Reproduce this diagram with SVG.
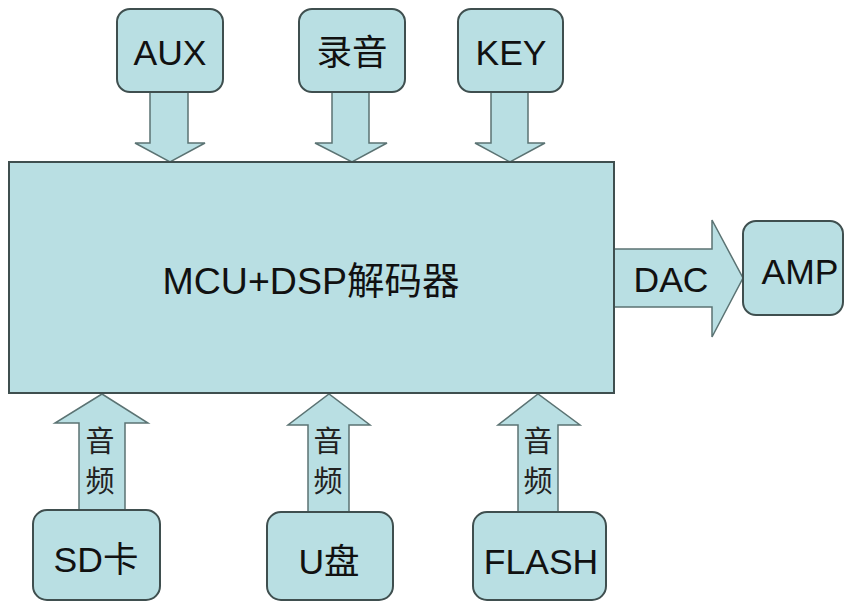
<svg xmlns="http://www.w3.org/2000/svg" width="849" height="604" viewBox="0 0 849 604">
<style>
.box{fill:#b9dfe3;stroke:#3f4f4f;stroke-width:2}
.arr{fill:#b9dfe3;stroke:#5b7373;stroke-width:1.5}
.t{font-family:"Liberation Sans","Noto Sans CJK SC",sans-serif;fill:#111;text-anchor:middle}
.l{font-size:35.5px}
.v{font-size:29px;font-family:"Noto Sans CJK SC",sans-serif;fill:#222;text-anchor:middle}
</style>
<rect width="849" height="604" fill="#fff"/>
<g id="connectors">
<polygon class="arr" points="150,92 188,92 188,143 205,143 170,162 135,143 150,143"/>
<polygon class="arr" points="332,92 369,92 369,143 387,143 352,162 315,143 332,143"/>
<polygon class="arr" points="491,92 528,92 528,143 545,143 510,162 475,143 491,143"/>
<polygon class="arr" points="614,249 712,249 712,220 743,278 712,337 712,307 614,307"/>
<polygon class="arr" points="79,510 125,510 125,423 148,423 102,394 55,423 79,423"/>
<polygon class="arr" points="308,512 349,512 349,425 370,425 329,394 288,425 308,425"/>
<polygon class="arr" points="518,512 558,512 558,425 580,425 538,394 498,425 518,425"/>
<text class="t l" x="671" y="292">DAC</text>
<text class="v" x="100" y="452">音</text>
<text class="v" x="100" y="492">频</text>
<text class="v" x="328" y="452">音</text>
<text class="v" x="328" y="492">频</text>
<text class="v" x="538" y="452">音</text>
<text class="v" x="538" y="492">频</text>
</g>
<g id="main"><rect class="box" x="9" y="162" width="605" height="231"/><text class="t" x="311" y="294" font-size="37.5">MCU+DSP解码器</text></g>
<g id="aux"><rect class="box" x="117" y="9" width="106" height="83" rx="13"/><text class="t l" x="170" y="65">AUX</text></g>
<g id="rec"><rect class="box" x="299" y="9" width="106" height="83" rx="13"/><text class="t l" x="352" y="65">录音</text></g>
<g id="key"><rect class="box" x="458" y="9" width="105" height="83" rx="13"/><text class="t l" x="511" y="65">KEY</text></g>
<g id="amp"><rect class="box" x="743" y="221" width="100" height="94" rx="13"/><text class="t l" x="800" y="284">AMP</text></g>
<g id="sd"><rect class="box" x="33" y="510" width="127" height="90" rx="14"/><text class="t l" x="96" y="572">SD卡</text></g>
<g id="udisk"><rect class="box" x="267" y="512" width="126" height="88" rx="14"/><text class="t l" x="329" y="574">U盘</text></g>
<g id="flash"><rect class="box" x="473" y="512" width="133" height="88" rx="14"/><text class="t l" x="541" y="574">FLASH</text></g>
</svg>
